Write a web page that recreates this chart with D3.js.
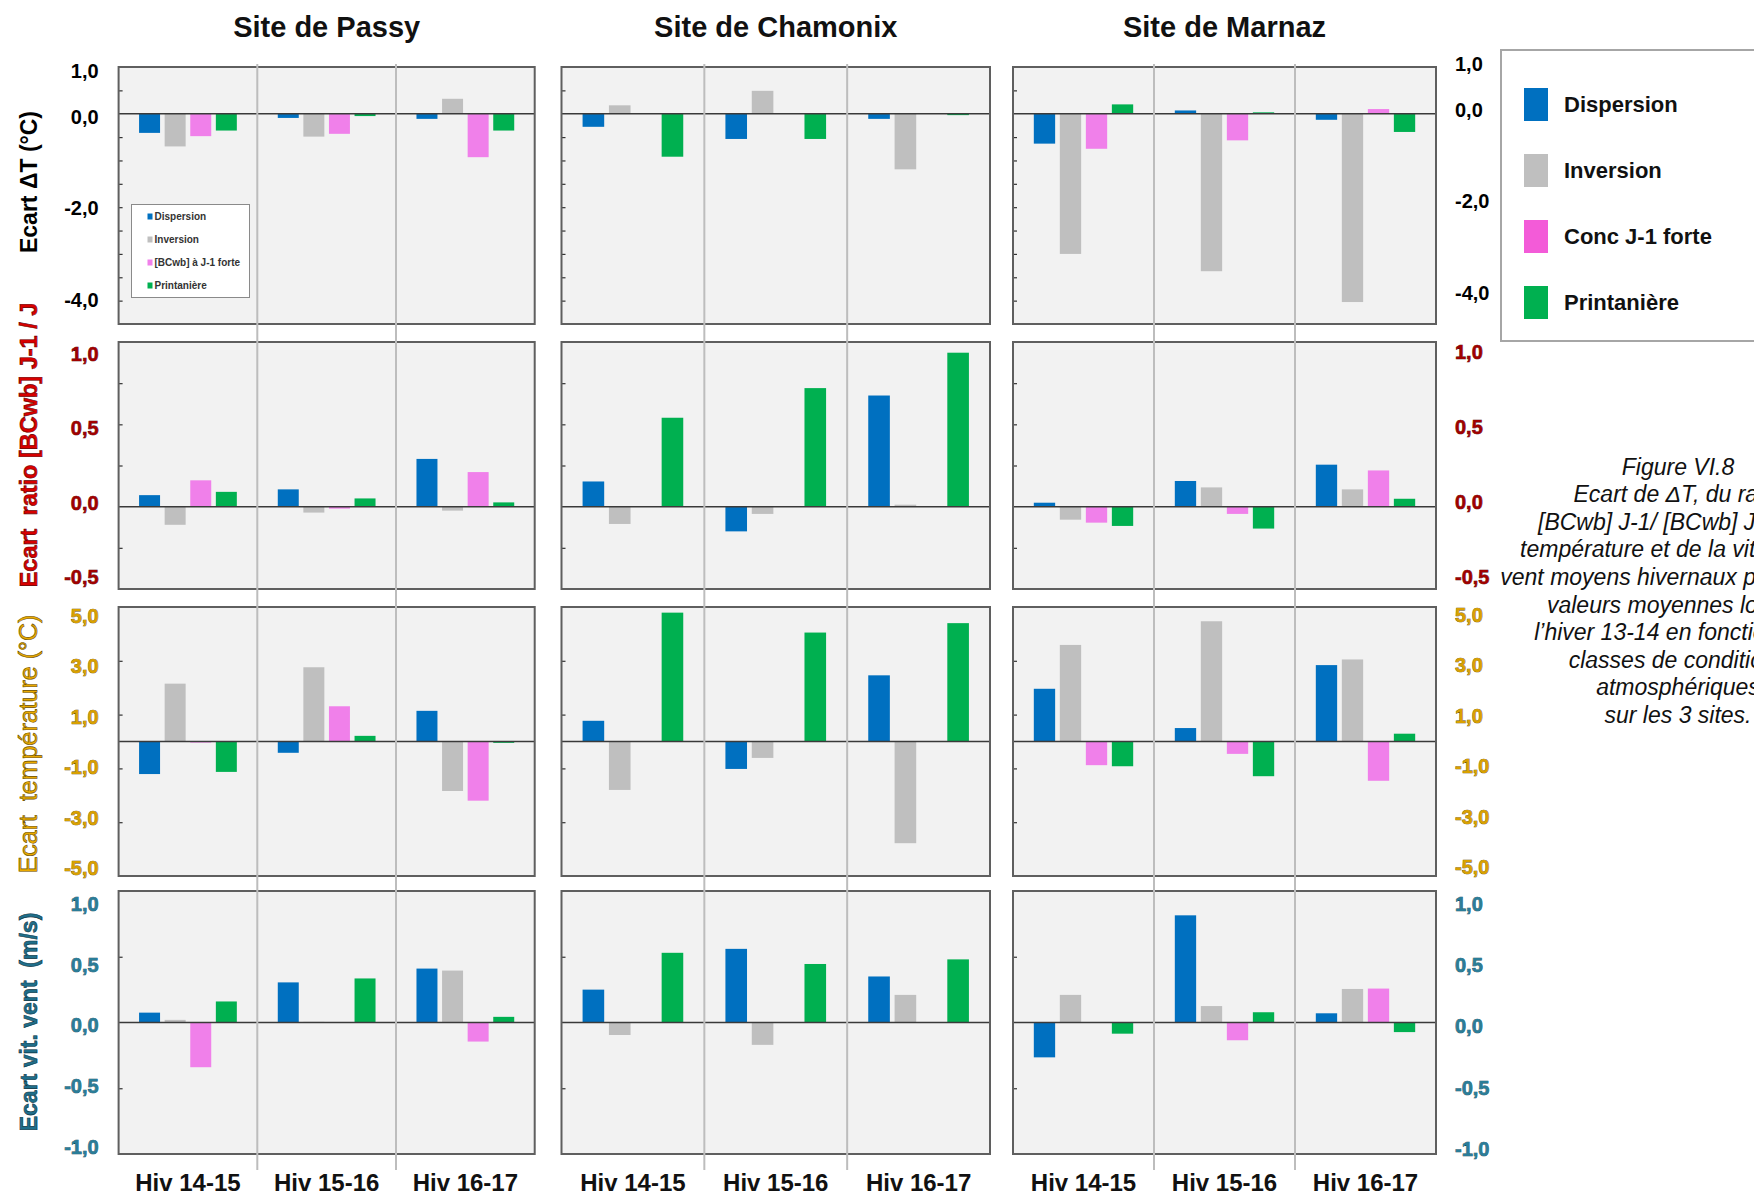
<!DOCTYPE html>
<html><head><meta charset="utf-8">
<script src="https://cdn.jsdelivr.net/npm/d3@7"></script>
<style>
body{margin:0;background:#fff;overflow:hidden}
svg{display:block}
text{font-family:"Liberation Sans",Arial,sans-serif}
</style>
</head><body>
<svg id="chart" width="1754" height="1196"></svg>
<script>
// ---------------- DATA ----------------
const sites = ["Site de Passy", "Site de Chamonix", "Site de Marnaz"];
const winters = ["Hiv 14-15", "Hiv 15-16", "Hiv 16-17"];
const classes = ["Dispersion", "Inversion", "Conc J-1 forte", "Printanière"];
const insetLegendLabels = ["Dispersion", "Inversion", "[BCwb] à J-1 forte", "Printanière"];

// Row 1 : Ecart ΔT (°C)  — [winter][class]
const dT_Passy    = [[-0.41, -0.70, -0.48, -0.36], [-0.09, -0.49, -0.43, -0.05], [-0.11, 0.32, -0.93, -0.36]];
const dT_Chamonix = [[-0.28, 0.18, 0, -0.92], [-0.54, 0.49, 0, -0.54], [-0.11, -1.19, 0, -0.03]];
const dT_Marnaz   = [[-0.64, -3.00, -0.75, 0.20], [0.07, -3.37, -0.57, 0.03], [-0.13, -4.03, 0.10, -0.39]];

// Row 2 : Ecart ratio [BCwb] J-1 / J
const ratio_Passy    = [[0.07, -0.11, 0.16, 0.09], [0.105, -0.036, -0.012, 0.05], [0.29, -0.024, 0.21, 0.026]];
const ratio_Chamonix = [[0.153, -0.105, 0, 0.54], [-0.15, -0.044, 0, 0.72], [0.675, 0.012, 0, 0.935]];
const ratio_Marnaz   = [[0.024, -0.079, -0.097, -0.117], [0.156, 0.117, -0.044, -0.133], [0.255, 0.105, 0.22, 0.048]];

// Row 3 : Ecart température (°C)
const temp_Passy    = [[-1.21, 2.15, -0.04, -1.13], [-0.42, 2.76, 1.31, 0.21], [1.14, -1.84, -2.20, -0.05]];
const temp_Chamonix = [[0.77, -1.80, 0, 4.79], [-1.02, -0.61, 0, 4.05], [2.46, -3.78, 0, 4.40]];
const temp_Marnaz   = [[1.96, 3.59, -0.88, -0.92], [0.50, 4.47, -0.46, -1.29], [2.84, 3.05, -1.46, 0.29]];

// Row 4 : Ecart vit. vent (m/s)
const wind_Passy    = [[0.075, 0.02, -0.34, 0.16], [0.305, 0.005, 0, 0.335], [0.41, 0.395, -0.145, 0.043]];
const wind_Chamonix = [[0.25, -0.095, 0, 0.53], [0.56, -0.17, 0, 0.445], [0.35, 0.21, 0, 0.48]];
const wind_Marnaz   = [[-0.265, 0.21, 0, -0.085], [0.815, 0.125, -0.135, 0.078], [0.07, 0.255, 0.258, -0.073]];

// Axis domains and tick labels
const domainDT = [-4.5, 1], domainRatio = [-0.5, 1], domainTemp = [-5, 5], domainWind = [-1, 1];
const ticksDT = [1, 0, -2, -4];
const ticksRatio = [1, 0.5, 0, -0.5];
const ticksTemp = [5, 3, 1, -1, -3, -5];
const ticksWind = [1, 0.5, 0, -0.5, -1];
const minorDT = [0.5, -0.5, -1, -1.5, -2, -2.5, -3, -3.5, -4];
const minorRatio = [0.75, 0.5, 0.25, -0.25];
const minorTemp = [3, 1, -1, -3];
const minorWind = [0.5, -0.5];

const yTitles = ["Ecart ΔT (°C)", "Ecart  ratio [BCwb] J-1 / J", "Ecart  température (°C)", "Ecart vit. vent  (m/s)"];
const captionLines = ["Figure VI.8", "Ecart de ΔT, du ratio", "[BCwb] J-1/ [BCwb] J, de la",
  "température et de la vitesse du", "vent moyens hivernaux par rapport", "valeurs moyennes lors de",
  "l’hiver 13-14 en fonction des", "classes de conditions", "atmosphériques", "sur les 3 sites."];

// ---------------- STYLE / LAYOUT ----------------
const barColors = ["#0070C0", "#BFBFBF", "#F080EA", "#00B050"];
const legendColors = ["#0070C0", "#BFBFBF", "#F35BD8", "#00B050"];

// labelL / labelR : pixel span on which the tick labels are laid out (first tick -> last tick)
const rows = [
  {data: [dT_Passy, dT_Chamonix, dT_Marnaz], domain: domainDT, ticks: ticksDT, minor: minorDT,
   top: 67, bottom: 324, labelL: [71, 300], labelR: [64, 293],
   fill: "#000", stroke: "none", titleFill: "#000", titleStroke: "none", titleWeight: "bold", titleSize: 23, titleY: 182},
  {data: [ratio_Passy, ratio_Chamonix, ratio_Marnaz], domain: domainRatio, ticks: ticksRatio, minor: minorRatio,
   top: 342, bottom: 589, labelL: [354, 577], labelR: [352, 577],
   fill: "#A00000", stroke: "#4a0000", titleFill: "#D80000", titleStroke: "#6a0000", titleWeight: "bold", titleSize: 23.5, titleY: 445},
  {data: [temp_Passy, temp_Chamonix, temp_Marnaz], domain: domainTemp, ticks: ticksTemp, minor: minorTemp,
   top: 607, bottom: 876, labelL: [616, 868], labelR: [615, 867],
   fill: "#D9A000", stroke: "#5a4200", titleFill: "#EBAA00", titleStroke: "#6a4e00", titleWeight: "normal", titleSize: 25, titleY: 744},
  {data: [wind_Passy, wind_Chamonix, wind_Marnaz], domain: domainWind, ticks: ticksWind, minor: minorWind,
   top: 891, bottom: 1154, labelL: [904, 1147], labelR: [904, 1149],
   fill: "#2A7D98", stroke: "#10404f", titleFill: "#1F6E8A", titleStroke: "#0d3644", titleWeight: "bold", titleSize: 23, titleY: 1022}
];
const cols = [{left: 118.6, right: 534.7}, {left: 561.5, right: 990}, {left: 1013, right: 1436}];

const fmt = v => d3.format(".1f")(v).replace(".", ",").replace("−", "-");
const svg = d3.select("#chart");

// site titles
cols.forEach((c, ci) => {
  svg.append("text").attr("x", (c.left + c.right) / 2).attr("y", 37)
    .attr("text-anchor", "middle").attr("font-weight", "bold").attr("font-size", 29)
    .attr("fill", "#111").text(sites[ci]);
});

rows.forEach((row, ri) => {
  cols.forEach((col, ci) => {
    const y = d3.scaleLinear().domain(row.domain).range([row.bottom, row.top]);
    const x0 = d3.scaleBand().domain(winters).range([col.left, col.right]);
    const x1 = d3.scaleBand().domain(classes).range([0, x0.bandwidth()]).paddingInner(0.18).paddingOuter(0.8);
    const g = svg.append("g");

    g.append("rect").attr("x", col.left).attr("y", row.top)
      .attr("width", col.right - col.left).attr("height", row.bottom - row.top)
      .attr("fill", "#F2F2F2");

    // small inward tick marks
    const tickG = g.append("g").attr("transform", `translate(${col.left},0)`)
      .call(d3.axisLeft(y).tickValues(row.minor).tickSize(-4).tickFormat(""));
    tickG.select(".domain").remove();
    tickG.selectAll("line").attr("stroke", "#333").attr("stroke-width", 1.2);

    // bars
    const vals = row.data[ci];
    winters.forEach((w, wi) => {
      classes.forEach((cl, k) => {
        const v = vals[wi][k];
        if (v === 0) return;
        g.append("rect")
          .attr("x", x0(w) + x1(cl))
          .attr("y", y(Math.max(v, 0)))
          .attr("width", x1.bandwidth())
          .attr("height", Math.abs(y(v) - y(0)))
          .attr("fill", barColors[k]);
      });
    });

    // zero line
    g.append("line").attr("x1", col.left).attr("x2", col.right)
      .attr("y1", y(0)).attr("y2", y(0)).attr("stroke", "#3a3a3a").attr("stroke-width", 1.5);

    // frame
    g.append("rect").attr("x", col.left).attr("y", row.top)
      .attr("width", col.right - col.left).attr("height", row.bottom - row.top)
      .attr("fill", "none").attr("stroke", "#5f5f5f").attr("stroke-width", 2);

    // tick labels
    if (ci === 0 || ci === 2) {
      const tExt = [row.ticks[0], row.ticks[row.ticks.length - 1]];
      const yl = d3.scaleLinear().domain(tExt).range(ci === 0 ? row.labelL : row.labelR);
      const ax = ci === 0
        ? d3.axisLeft(yl).tickValues(row.ticks).tickSize(0).tickPadding(20).tickFormat(fmt)
        : d3.axisRight(yl).tickValues(row.ticks).tickSize(0).tickPadding(19).tickFormat(fmt);
      const axG = svg.append("g").attr("transform", `translate(${ci === 0 ? col.left : col.right},0)`).call(ax);
      axG.select(".domain").remove();
      axG.selectAll("text")
        .attr("font-family", "'Liberation Sans Narrow','DejaVu Sans Condensed','Liberation Sans',sans-serif")
        .attr("font-size", 20).attr("font-weight", "bold")
        .attr("fill", row.fill).attr("stroke", row.stroke).attr("stroke-width", row.stroke === "none" ? 0 : 0.6)
        .style("paint-order", "stroke");
    }
  });

  // y-axis title
  svg.append("text").attr("transform", `translate(37,${row.titleY}) rotate(-90)`)
    .attr("text-anchor", "middle").attr("font-size", row.titleSize).attr("font-weight", row.titleWeight)
    .style("white-space", "pre")
    .attr("fill", row.titleFill).attr("stroke", row.titleStroke)
    .attr("stroke-width", row.titleStroke === "none" ? 0 : 0.6)
    .text(yTitles[ri]);
});

// vertical separators between winters & x labels
cols.forEach(col => {
  const x0 = d3.scaleBand().domain(winters).range([col.left, col.right]);
  winters.slice(1).forEach(w => {
    svg.append("line").attr("x1", x0(w)).attr("x2", x0(w)).attr("y1", 64).attr("y2", 1170)
      .attr("stroke", "#BDBDBD").attr("stroke-width", 2);
  });
  winters.forEach(w => {
    svg.append("text").attr("x", x0(w) + x0.bandwidth() / 2).attr("y", 1191)
      .attr("text-anchor", "middle").attr("font-size", 24).attr("font-weight", "bold")
      .attr("fill", "#111").text(w);
  });
});

// inset legend in Passy ΔT panel
const inset = svg.append("g");
inset.append("rect").attr("x", 131.5).attr("y", 204.5).attr("width", 118).attr("height", 93)
  .attr("fill", "#fff").attr("stroke", "#8a8a8a").attr("stroke-width", 1);
insetLegendLabels.forEach((t, i) => {
  const cy = 216.5 + i * 23;
  inset.append("rect").attr("x", 147.5).attr("y", cy - 3).attr("width", 5).attr("height", 6).attr("fill", barColors[i]);
  inset.append("text").attr("x", 154.5).attr("y", cy).attr("dy", "0.35em")
    .attr("font-family", "'Liberation Sans Narrow','Liberation Sans',sans-serif")
    .attr("font-size", 10).attr("font-weight", "bold").attr("fill", "#333").text(t);
});

// main legend
const leg = svg.append("g");
leg.append("rect").attr("x", 1501).attr("y", 50).attr("width", 300).attr("height", 291)
  .attr("fill", "#fff").attr("stroke", "#A6A6A6").attr("stroke-width", 2);
classes.forEach((t, i) => {
  const cy = 104.5 + i * 66;
  leg.append("rect").attr("x", 1524).attr("y", cy - 16.5).attr("width", 24).attr("height", 33).attr("fill", legendColors[i]);
  leg.append("text").attr("x", 1564).attr("y", cy).attr("dy", "0.35em")
    .attr("font-size", 22).attr("font-weight", "bold").attr("fill", "#111").text(t);
});

// caption
captionLines.forEach((t, i) => {
  svg.append("text").attr("x", 1678).attr("y", 466.5 + i * 27.6).attr("dy", "0.35em")
    .attr("text-anchor", "middle").attr("font-size", 23).attr("font-style", "italic")
    .attr("fill", "#111").text(t);
});
</script>
</body></html>
